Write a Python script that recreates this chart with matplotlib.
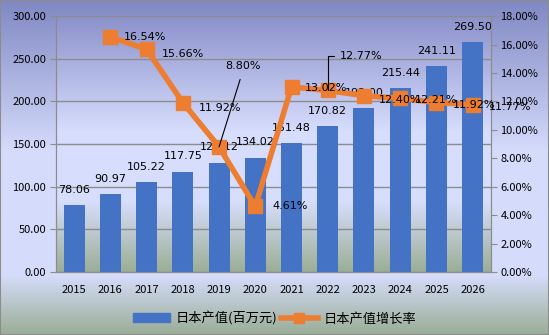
import numpy as np
import matplotlib.pyplot as plt
from matplotlib.colors import LinearSegmentedColormap
from matplotlib.lines import Line2D
from matplotlib.patches import Patch, Rectangle

plt.rcParams['font.family'] = ['Noto Sans CJK SC', 'DejaVu Sans']

years = ['2015', '2016', '2017', '2018', '2019', '2020',
         '2021', '2022', '2023', '2024', '2025', '2026']
output = [78.06, 90.97, 105.22, 117.75, 128.12, 134.02,
          151.48, 170.82, 192.00, 215.44, 241.11, 269.50]
# growth starts in 2016
growth_years = years[1:]
growth = [16.54, 15.66, 11.92, 8.80, 4.61, 13.02,
          12.77, 12.40, 12.21, 11.92, 11.77]

BAR = '#4472C4'
LINE = '#ED7D31'
FS = 8

fig = plt.figure(figsize=(5.49, 3.35), dpi=100)

# background gradient for the whole figure
bg = fig.add_axes([0, 0, 1, 1], zorder=-10)
fig_cmap = LinearSegmentedColormap.from_list(
    'figbg', [(0, '#8088C3'), (0.45, '#D4DBFB'), (0.82, '#D6DDFC'), (1, '#9AAD96')])
bg.imshow(np.linspace(0, 1, 256).reshape(-1, 1), aspect='auto', cmap=fig_cmap,
          extent=[0, 1, 0, 1], origin='upper')
bg.set_axis_off()
fig.patches.append(Rectangle((0, 0), 1, 1, transform=fig.transFigure, fill=False,
                             edgecolor='#8C8C8C', lw=1.5))

ax = fig.add_axes([0.102, 0.188, 0.792, 0.764])
ax2 = ax.twinx()

# plot area gradient
plot_cmap = LinearSegmentedColormap.from_list(
    'plotbg', [(0, '#8C92CB'), (0.45, '#D6DDFD'), (0.72, '#D8DFFD'), (1, '#9BAE96')])
ax.imshow(np.linspace(0, 1, 256).reshape(-1, 1), aspect='auto', cmap=plot_cmap,
          extent=[-0.5, len(years) - 0.5, 0, 300], origin='upper', zorder=0)

x = np.arange(len(years))
ax.bar(x, output, width=0.58, color=BAR, zorder=3)
ax.set_xlim(-0.5, len(years) - 0.5)
ax.set_ylim(0, 300)
ax.set_yticks(np.arange(0, 301, 50))
ax.set_yticklabels([f'{v:.2f}' for v in np.arange(0, 301, 50)])
ax.set_xticks(x)
ax.set_xticklabels(years)
ax.grid(axis='y', color='#8C8C8C', lw=1, zorder=1)
ax.tick_params(axis='y', length=4, color='#8C8C8C', labelsize=FS, pad=3)
ax.tick_params(axis='x', length=0, labelsize=FS, pad=9)
ax.spines['top'].set_visible(False)
ax2.spines['top'].set_visible(False)
for s in ['left', 'right', 'bottom']:
    ax.spines[s].set_color('#8C8C8C')
    ax2.spines[s].set_color('#8C8C8C')

for xi, v in zip(x, output):
    ax.annotate(f'{v:.2f}', (xi, v), xytext=(0, 11), textcoords='offset points',
                ha='center', va='center', fontsize=FS, family='DejaVu Sans', zorder=6)

gx = np.arange(1, len(years))
g = np.array(growth) / 100
ax2.plot(gx, g, color=LINE, lw=4, marker='s', markersize=10, zorder=5)
ax2.set_ylim(0, 0.18)
ax2.set_yticks(np.arange(0, 0.181, 0.02))
ax2.set_yticklabels([f'{v * 100:.2f}%' for v in np.arange(0, 0.181, 0.02)])
ax2.tick_params(axis='y', length=4, color='#8C8C8C', labelsize=FS, pad=3)

# label offsets (points) for each growth value
offsets = {
    '2016': (25, 0), '2017': (26, -3), '2018': (27, -4),
    '2020': (25, 0), '2021': (25, -1),
    '2023': (26, -3), '2024': (26, -1), '2025': (27, -2), '2026': (27, -2),
}
for yr, xi, v in zip(growth_years, gx, growth):
    if yr in offsets:
        ax2.annotate(f'{v:.2f}%', (xi, v / 100), xytext=offsets[yr],
                     textcoords='offset points', ha='center', va='center',
                     fontsize=FS, family='DejaVu Sans', zorder=7)

# 2019 with a straight leader line
i19 = growth_years.index('2019')
ax2.annotate(f'{growth[i19]:.2f}%', (gx[i19], growth[i19] / 100), xytext=(17, 58),
             textcoords='offset points', ha='center', va='center', fontsize=FS,
             family='DejaVu Sans', zorder=7,
             arrowprops=dict(arrowstyle='-', color='black', lw=0.8,
                             shrinkA=4, shrinkB=0, relpos=(0.5, 0)))
# 2022 with an elbow leader line
i22 = growth_years.index('2022')
ax2.annotate(f'{growth[i22]:.2f}%', (gx[i22], growth[i22] / 100), xytext=(24, 25),
             textcoords='offset points', ha='center', va='center', fontsize=FS,
             family='DejaVu Sans', zorder=7,
             arrowprops=dict(arrowstyle='-', color='black', lw=0.8, shrinkA=2, shrinkB=0,
                             relpos=(0, 0.5),
                             connectionstyle='angle,angleA=0,angleB=90,rad=0'))

handles = [Patch(color=BAR),
           Line2D([], [], color=LINE, lw=4, marker='s', markersize=7)]
fig.legend(handles, ['日本产值(百万元)', '日本产值增长率'], loc='center',
           bbox_to_anchor=(0.5, 0.05), ncol=2, frameon=False, fontsize=9.5,
           handlelength=2.8, columnspacing=0.3, handletextpad=0.4)

fig.savefig('out.png', dpi=100)
